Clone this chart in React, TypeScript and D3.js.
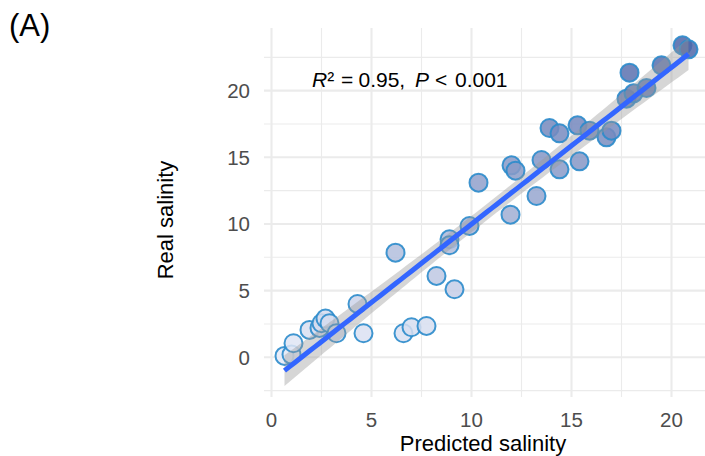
import React from "react";
import * as d3 from "d3";

const predicted = [0.65, 1.0, 1.1, 1.9, 2.4, 2.5, 2.7, 2.9, 3.25, 4.3, 4.6, 6.6, 7.0, 7.75, 6.2, 8.25, 9.15, 8.9, 8.9, 9.9, 10.35, 11.95, 12.0, 12.2, 13.25, 13.5, 14.4, 15.4, 13.9, 14.4, 15.3, 15.9, 16.75, 17.0, 17.75, 17.9, 18.1, 18.75, 19.5, 20.55, 20.85];
const real = [0.1, 0.2, 1.05, 2.05, 2.2, 2.55, 2.9, 2.55, 1.8, 4.0, 1.8, 1.8, 2.25, 2.35, 7.85, 6.1, 5.1, 8.85, 8.4, 9.85, 13.1, 10.7, 14.4, 14.0, 12.1, 14.8, 14.1, 14.7, 17.2, 16.8, 17.4, 17.0, 16.5, 17.0, 19.4, 21.35, 19.8, 20.2, 21.9, 23.4, 23.1];

const xTicks = [0, 5, 10, 15, 20];
const yTicks = [0, 5, 10, 15, 20];
const xMinor = [2.5, 7.5, 12.5, 17.5];
const yMinor = [-2.5, 2.5, 7.5, 12.5, 17.5, 22.5];

const W = 705, H = 456;
const PL = 264, PT = 28, PB = 397;

export default function App() {
  const x = d3.scaleLinear().domain([-0.375, 21.86]).range([PL, PL + 22.235 * 20]);
  const y = d3.scaleLinear().domain([-2.98, 24.7]).range([PB, PT]);
  const PR = W;

  const n = predicted.length;
  const mx = d3.mean(predicted)!;
  const my = d3.mean(real)!;
  let sxx = 0, sxy = 0;
  for (let i = 0; i < n; i++) {
    sxx += (predicted[i] - mx) ** 2;
    sxy += (predicted[i] - mx) * (real[i] - my);
  }
  const b = sxy / sxx;
  const a = my - b * mx;
  let sse = 0;
  for (let i = 0; i < n; i++) sse += (real[i] - a - b * predicted[i]) ** 2;
  const s = Math.sqrt(sse / (n - 2));
  const t = 2.023;
  const xmin = d3.min(predicted)!, xmax = d3.max(predicted)!;
  const grid = d3.range(0, 81).map((k) => xmin + ((xmax - xmin) * k) / 80);
  const band = grid.map((gx) => {
    const fit = a + b * gx;
    const se = s * Math.sqrt(1 / n + (gx - mx) ** 2 / sxx);
    return { gx, fit, lo: fit - t * se, hi: fit + t * se };
  });
  const area = d3.area<any>().x((d) => x(d.gx)).y0((d) => y(d.lo)).y1((d) => y(d.hi));
  const line = d3.line<any>().x((d) => x(d.gx)).y((d) => y(d.fit));

  const fillScale = d3.scaleLinear<string>().domain([0, 23.4]).range(["#e6ebf8", "#4d65a8"]).interpolate(d3.interpolateRgb);

  const font = "'Liberation Sans', Arial, sans-serif";

  return (
    <svg width={W} height={H} style={{ position: "absolute", left: 0, top: 0, background: "#fff" }} fontFamily={font}>
      <rect width={W} height={H} fill="#fff" />
      <defs>
        <clipPath id="panel">
          <rect x={PL} y={PT} width={PR - PL} height={PB - PT} />
        </clipPath>
      </defs>
      <g>
        {yMinor.map((v) => (
          <line key={"ym" + v} x1={PL} x2={PR} y1={y(v)} y2={y(v)} stroke="#ebebeb" strokeWidth={1.1} />
        ))}
        {xMinor.map((v) => (
          <line key={"xm" + v} x1={x(v)} x2={x(v)} y1={PT} y2={PB} stroke="#ebebeb" strokeWidth={1.1} />
        ))}
        {yTicks.map((v) => (
          <line key={"yM" + v} x1={PL} x2={PR} y1={y(v)} y2={y(v)} stroke="#ebebeb" strokeWidth={2.1} />
        ))}
        {xTicks.map((v) => (
          <line key={"xM" + v} x1={x(v)} x2={x(v)} y1={PT} y2={PB} stroke="#ebebeb" strokeWidth={2.1} />
        ))}
      </g>
      <g clipPath="url(#panel)">
        {predicted.map((px, i) => (
          <circle key={i} cx={x(px)} cy={y(real[i])} r={9} fill={fillScale(real[i])} fillOpacity={0.85} stroke="#2b8bcb" strokeOpacity={0.9} strokeWidth={2} />
        ))}
        <path d={area(band) || ""} fill="#999999" fillOpacity={0.4} />
        <path d={line(band) || ""} fill="none" stroke="#3366ff" strokeWidth={5} />
      </g>
      {yTicks.map((v) => (
        <text key={"yl" + v} x={250} y={y(v)} dy="0.36em" textAnchor="end" fontSize={20.5} fill="#4d4d4d">{v}</text>
      ))}
      {xTicks.map((v) => (
        <text key={"xl" + v} x={x(v)} y={426.5} textAnchor="middle" fontSize={20.5} fill="#4d4d4d">{v}</text>
      ))}
      <text x={483} y={451} textAnchor="middle" fontSize={22} fill="#000">Predicted salinity</text>
      <text transform={`translate(173,220) rotate(-90)`} textAnchor="middle" fontSize={22} fill="#000">Real salinity</text>
      <text x={9} y={36} fontSize={31} fill="#000">(A)</text>
      <text y={86.5} fontSize={21} fill="#000">
        <tspan x={312} fontStyle="italic">R</tspan>
        <tspan>²</tspan>
        <tspan x={341}>=</tspan>
        <tspan x={358.5}>0.95,</tspan>
        <tspan x={415} fontStyle="italic">P</tspan>
        <tspan x={435}>&lt;</tspan>
        <tspan x={455}>0.001</tspan>
      </text>
    </svg>
  );
}
